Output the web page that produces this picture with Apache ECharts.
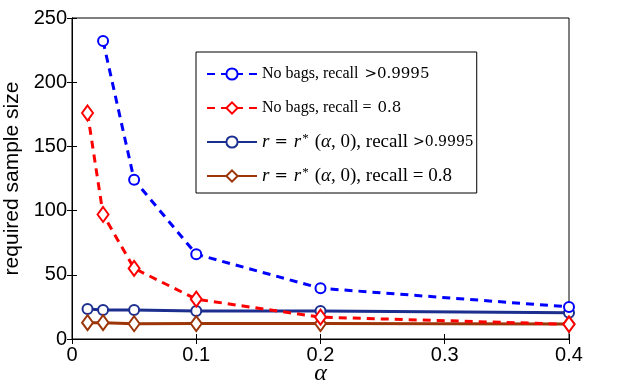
<!DOCTYPE html>
<html><head><meta charset="utf-8">
<script src="https://cdn.jsdelivr.net/npm/echarts@6/dist/echarts.min.js"></script>
<style>html,body{margin:0;padding:0;background:#fff}#c{width:620px;height:384px}</style>
</head><body><div id="c"></div>
<script>
const alphaNoBagsHigh = [0.025, 0.05, 0.1, 0.2, 0.4];
const noBagsHigh = [232, 124, 66, 39.5, 25];
const alphaAll = [0.0125, 0.025, 0.05, 0.1, 0.2, 0.4];
const noBagsLow = [176, 97, 55, 31, 17, 11.5];
const rStarHigh = [23.4, 22.6, 22.6, 21.8, 21.8, 20.5];
const rStarLow = [12.7, 12.7, 11.9, 12, 12, 11.7];
const xTicks = [0, 0.1, 0.2, 0.3, 0.4];
const yTicks = [0, 50, 100, 150, 200, 250];

const names = ['nb1','nb2','rs1','rs2'];
const legendText = {
  nb1: 'No bags, recall {m|>0.9995}',
  nb2: 'No bags, recall = {m|0.8}',
  rs1: '{i|r}{eq|=}{i|r}{s|*}{p|(}{i|α}{p|, 0)}{t|, recall}{m2|>0.9995}',
  rs2: '{i|r}{eq|=}{i|r}{s|*}{p|(}{i|α}{p|, 0)}{t|, recall = }{p|0.8}'
};
const zip = (xs, ys) => xs.map((x, i) => [x, ys[i]]);

const tickAxisCommon = {
  axisLine: {lineStyle: {color: '#000'}},
  axisTick: {inside: true, length: 5, lineStyle: {color: '#000'}},
  splitLine: {show: false}
};
const LH = 20;

const chart = echarts.init(document.getElementById('c'));
chart.setOption({
  animation: false,
  grid: {left: 72, right: 51, top: 18, bottom: 45, show: true, borderColor: '#000', borderWidth: 1,
    outerBoundsMode: 'none', containLabel: false},
  legend: {
    data: names, orient: 'vertical', left: 196, top: 52, itemGap: 14,
    itemWidth: 50, itemHeight: 14,
    borderColor: '#000', borderWidth: 1, padding: [12, 3, 7, 10],
    backgroundColor: '#fff',
    formatter: n => legendText[n],
    textStyle: {fontFamily: 'Liberation Serif', fontSize: 16, lineHeight: LH, color: '#000',
      rich: {
        t: {fontFamily: 'Liberation Serif', fontSize: 19, lineHeight: LH, color: '#000'},
        p: {fontFamily: 'Liberation Serif', fontSize: 19, lineHeight: LH, color: '#000'},
        i: {fontFamily: 'Liberation Serif', fontStyle: 'italic', fontSize: 19, lineHeight: LH, color: '#000'},
        eq: {fontFamily: 'DejaVu Serif', fontSize: 16, lineHeight: LH, color: '#000', padding: [0, 6, 0, 5]},
        m: {fontFamily: 'DejaVu Serif', fontSize: 15, lineHeight: LH, color: '#000', padding: [0, 0, 0, 2]},
        m2: {fontFamily: 'DejaVu Serif', fontSize: 14, lineHeight: LH, color: '#000', padding: [0, 0, 0, 5]},
        s: {fontFamily: 'Liberation Serif', fontSize: 13, lineHeight: LH, color: '#000', verticalAlign: 'top', padding: [0, 6, 7, 1]}
      }}
  },
  xAxis: [{
    type: 'value', min: 0, max: 0.4, interval: 0.1, ...tickAxisCommon,
    name: 'α', nameLocation: 'middle', nameGap: 23, nameMoveOverlap: false,
    nameTextStyle: {fontFamily: 'Liberation Serif', fontStyle: 'italic', fontSize: 24, color: '#000'},
    axisLabel: {fontFamily: 'Liberation Sans', fontSize: 20, color: '#000', margin: 6,
      formatter: v => xTicks.includes(Math.round(v*10)/10) ? String(Math.round(v*10)/10) : ''}
  }, {
    type: 'value', min: 0, max: 0.4, interval: 0.1, position: 'top', ...tickAxisCommon,
    axisLabel: {show: false}
  }],
  yAxis: [{
    type: 'value', min: 0, max: 250, interval: 50, ...tickAxisCommon,
    name: 'required sample size', nameLocation: 'middle', nameGap: 40,
    nameTextStyle: {fontFamily: 'Liberation Sans', fontSize: 21, color: '#000'},
    axisLabel: {fontFamily: 'Liberation Sans', fontSize: 20, color: '#000', margin: 5,
      formatter: v => yTicks.includes(v) ? String(v) : ''}
  }, {
    type: 'value', min: 0, max: 250, interval: 50, position: 'right', ...tickAxisCommon,
    axisLabel: {show: false}
  }],
  series: [
    {name: 'nb1', type: 'line', data: zip(alphaNoBagsHigh, noBagsHigh), symbol: 'emptyCircle', symbolSize: 10,
      lineStyle: {color: '#0000ff', width: 3, type: [8, 6]}, itemStyle: {color: '#0000ff', borderWidth: 3}, z: 4},
    {name: 'nb2', type: 'line', data: zip(alphaAll, noBagsLow), symbol: 'emptyDiamond', symbolSize: [11, 15],
      lineStyle: {color: '#ff0000', width: 3, type: [8, 6]}, itemStyle: {color: '#ff0000', borderWidth: 3}, z: 3},
    {name: 'rs1', type: 'line', data: zip(alphaAll, rStarHigh), symbol: 'emptyCircle', symbolSize: 10,
      lineStyle: {color: '#1c2f8f', width: 3}, itemStyle: {color: '#1c2f8f', borderWidth: 3}, z: 2},
    {name: 'rs2', type: 'line', data: zip(alphaAll, rStarLow), symbol: 'emptyDiamond', symbolSize: [11, 15],
      lineStyle: {color: '#9c3508', width: 3}, itemStyle: {color: '#9c3508', borderWidth: 3}, z: 2}
  ]
});
</script></body></html>
